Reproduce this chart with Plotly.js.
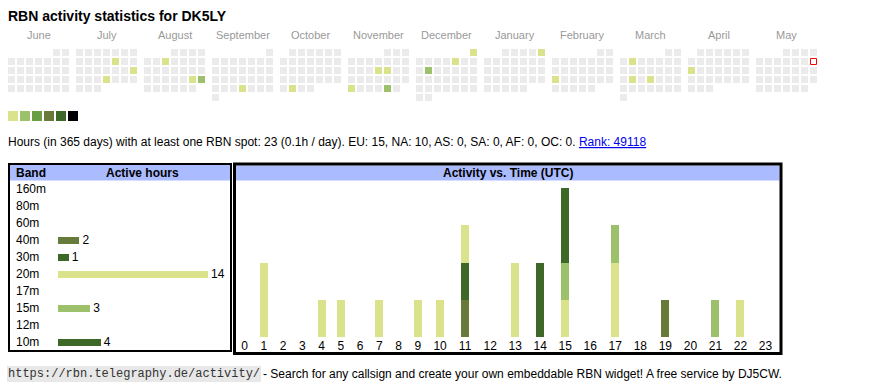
<!DOCTYPE html>
<html><head><meta charset="utf-8">
<script src="https://cdn.plot.ly/plotly-3.0.1.min.js"></script>
<style>html,body{margin:0;padding:0;background:#fff}#chart{width:870px;height:390px}</style>
</head><body><div id="chart"></div>
<script>
// ---------------- data ----------------
const monthNames = ['June','July','August','September','October','November','December','January','February','March','April','May'];
const monthYears = [2024,2024,2024,2024,2024,2024,2024,2025,2025,2025,2025,2025];
const monthNums  = [6,7,8,9,10,11,12,1,2,3,4,5];
const activeDays = ['2024-07-12','2024-07-21','2024-07-25','2024-08-07','2024-08-24','2024-08-25','2024-09-26','2024-10-29','2024-11-14','2024-11-15','2024-11-25','2024-11-29','2024-12-01','2024-12-06','2024-12-10','2025-01-05','2025-02-17','2025-03-04','2025-03-18','2025-03-20','2025-04-14'];
const activeLevels = [1,1,1,1,1,2,1,1,1,1,1,2,1,1,2,1,1,1,1,1,1];
const today = '2025-05-11';
const legendLevels = [1,2,3,4,5,6];

const bands = ['160m','80m','60m','40m','30m','20m','17m','15m','12m','10m'];
const bandHours = [0,0,0,2,1,14,0,3,0,4];

const hourLabels = ['0','1','2','3','4','5','6','7','8','9','10','11','12','13','14','15','16','17','18','19','20','21','22','23'];
const hours40m = [0,0,0,0,0,0,0,0,0,0,0,1,0,0,0,0,0,0,0,1,0,0,0,0];
const hours30m = [0,0,0,0,0,0,0,0,0,0,0,1,0,0,0,0,0,0,0,0,0,0,0,0];
const hours20m = [0,2,0,0,1,1,0,1,0,1,1,1,0,2,0,1,0,2,0,0,0,0,1,0];
const hours15m = [0,0,0,0,0,0,0,0,0,0,0,0,0,0,0,1,0,1,0,0,0,1,0,0];
const hours10m = [0,0,0,0,0,0,0,0,0,0,0,0,0,0,2,2,0,0,0,0,0,0,0,0];

const statsText = 'Hours (in 365 days) with at least one RBN spot: 23 (0.1h / day). EU: 15, NA: 10, AS: 0, SA: 0, AF: 0, OC: 0. ';
const rankText = 'Rank: 49118';
const footerUrl = 'https://rbn.telegraphy.de/activity/';
const footerText = '- Search for any callsign and create your own embeddable RBN widget! A free service by DJ5CW.';

// ---------------- styles ----------------
const W = 870, H = 390;
const levelColors = ['#ebebeb','#dae38b','#9dc06a','#6a9e45','#677a3a','#3d6828','#000000'];
const bandColor = {'160m':'#000000','80m':'#3d6828','60m':'#677a3a','40m':'#677a3a','30m':'#3d6828','20m':'#dae38b','17m':'#6a9e45','15m':'#9dc06a','12m':'#6a9e45','10m':'#3d6828'};
const SANS = 'Liberation Sans, Arial, sans-serif';
const px = v => v / W;
const py = v => 1 - v / H;

// calendar geometry
const CAL_X0 = 8, CAL_Y0 = 49, CELL = 7, PITCH = 9, MONTH_PITCH = 68;
const calX = [], calY = [], calC = [];
let todayX = null, todayY = null;
monthNames.forEach((name, m) => {
  const y = monthYears[m], mo = monthNums[m];
  const firstCol = (new Date(Date.UTC(y, mo - 1, 1)).getUTCDay() + 6) % 7;
  const nDays = new Date(Date.UTC(y, mo, 0)).getUTCDate();
  for (let d = 1; d <= nDays; d++) {
    const idx = d - 1 + firstCol;
    const col = idx % 7, row = Math.floor(idx / 7);
    const key = y + '-' + String(mo).padStart(2, '0') + '-' + String(d).padStart(2, '0');
    const ai = activeDays.indexOf(key);
    const lvl = ai >= 0 ? activeLevels[ai] : 0;
    const cx = CAL_X0 + m * MONTH_PITCH + col * PITCH + CELL / 2;
    const cy = CAL_Y0 + row * PITCH + CELL / 2;
    calX.push(cx); calY.push(cy); calC.push(levelColors[lvl]);
    if (key === today) { todayX = cx; todayY = cy; }
  }
});

// activity columns: two-digit hour columns are wider (like the HTML table)
const colUnits = hourLabels.map(h => h.length > 1 ? 1.3 : 1);
const colCenters = []; let acc = 0;
colUnits.forEach(u => { colCenters.push(acc + u / 2); acc += u; });
const colTotal = acc;
const ACT_X0 = 235, ACT_X1 = 778;
const unitPx = (ACT_X1 - ACT_X0) / colTotal;

const traces = [];
// calendar cells
traces.push({type:'scatter', mode:'markers', x: calX, y: calY, xaxis:'x3', yaxis:'y3',
  marker:{symbol:'square', size: CELL, color: calC, line:{width:0}}, hoverinfo:'skip'});
// today marker
traces.push({type:'scatter', mode:'markers', x:[todayX], y:[todayY], xaxis:'x3', yaxis:'y3',
  marker:{symbol:'square', size: CELL - 1, color:'#ffffff', line:{width:1, color:'#ff0000'}}, hoverinfo:'skip'});
// legend squares
traces.push({type:'scatter', mode:'markers',
  x: legendLevels.map((l, i) => 8 + i * 12 + 5), y: legendLevels.map(() => 116),
  xaxis:'x3', yaxis:'y3',
  marker:{symbol:'square', size:10, color: legendLevels.map(l => levelColors[l]), line:{width:0}}, hoverinfo:'skip'});

// band bars
traces.push({type:'bar', orientation:'h', x: bandHours, y: bands, xaxis:'x', yaxis:'y',
  width: 7/17, marker:{color: bands.map(b => bandColor[b])},
  text: bandHours.map(v => v > 0 ? String(v) : ''), textposition:'outside', constraintext:'none',
  cliponaxis:false, textfont:{family:SANS, size:12, color:'#000'}, hoverinfo:'skip'});

// activity stacked bars
const hourSeries = [['40m', hours40m], ['30m', hours30m], ['20m', hours20m], ['15m', hours15m], ['10m', hours10m]];
hourSeries.forEach(([b, arr]) => {
  traces.push({type:'bar', x: colCenters, y: arr, xaxis:'x2', yaxis:'y2',
    width: 8 / unitPx, marker:{color: bandColor[b], line:{width:0}}, hoverinfo:'skip'});
});

const annotations = [];
const ann = (o) => annotations.push(Object.assign({xref:'paper', yref:'paper', showarrow:false, borderpad:0, borderwidth:0,
  xanchor:'left', yanchor:'middle', font:{family:SANS, size:12, color:'#000'}}, o));

ann({text:'<b>RBN activity statistics for DK5LY</b>', x:px(8), y:py(16), font:{family:SANS, size:14, color:'#000'}});
monthNames.forEach((name, m) => {
  ann({text:name, x:px(CAL_X0 + m * MONTH_PITCH + (6 * PITCH + CELL) / 2), y:py(35), xanchor:'center',
    font:{family:SANS, size:11, color:'#999999'}});
});
ann({text: statsText + '<span style="color:#0000ee;text-decoration:underline">' + rankText + '</span>', x:px(8), y:py(142)});
ann({text:'<b>Band</b>', x:px(16), y:py(173)});
ann({text:'<b>Active hours</b>', x:px(142), y:py(173), xanchor:'center'});
ann({text:'<b>Activity vs. Time (UTC)</b>', x:px(507.5), y:py(173), xanchor:'center'});
bands.forEach(b => ann({text:b, x:px(16), yref:'y', y:b}));
ann({text:footerUrl, x:px(7), y:py(374), bgcolor:'#e8e8e8', borderpad:1,
  font:{family:'Liberation Mono, Courier New, monospace', size:12, color:'#333'}});
ann({text:footerText, x:px(263), y:py(374)});

const shapes = [
  {type:'rect', xref:'paper', yref:'paper', x0:px(10), x1:px(230), y0:py(165), y1:py(180.5), fillcolor:'#aabbff', line:{width:0}},
  {type:'rect', xref:'paper', yref:'paper', x0:px(236), x1:px(779.5), y0:py(165.5), y1:py(180.5), fillcolor:'#aabbff', line:{width:0}},
  {type:'rect', xref:'paper', yref:'paper', x0:px(9), x1:px(231), y0:py(164), y1:py(351), line:{width:2, color:'#000'}},
  {type:'rect', xref:'paper', yref:'paper', x0:px(234.5), x1:px(781), y0:py(164), y1:py(353.5), line:{width:3, color:'#000'}}
];

const hidden = {showgrid:false, zeroline:false, showline:false, showticklabels:false, ticks:'', fixedrange:true};
const layout = {
  width: W, height: H, margin:{l:0, r:0, t:0, b:0, pad:0},
  paper_bgcolor:'#fff', plot_bgcolor:'rgba(0,0,0,0)', showlegend:false, barmode:'stack',
  font:{family:SANS, size:12, color:'#000'},
  xaxis: Object.assign({}, hidden, {domain:[px(58), px(208)], range:[0, Math.max(...bandHours)], anchor:'y'}),
  yaxis: Object.assign({}, hidden, {domain:[py(350.8), py(180.8)], type:'category', categoryarray: bands, categoryorder:'array', range:[bands.length - 0.5, -0.5], anchor:'x'}),
  xaxis2: Object.assign({}, hidden, {domain:[px(ACT_X0), px(ACT_X1)], range:[0, colTotal], anchor:'y2',
    showticklabels:true, tickmode:'array', tickvals: colCenters, ticktext: hourLabels, tickfont:{family:SANS, size:12, color:'#000'}}),
  yaxis2: Object.assign({}, hidden, {domain:[py(337), py(181)], range:[0, (337 - 181) / 37.25], anchor:'x2'}),
  xaxis3: Object.assign({}, hidden, {domain:[0, 1], range:[0, W], anchor:'y3'}),
  yaxis3: Object.assign({}, hidden, {domain:[0, 1], range:[H, 0], anchor:'x3'}),
  annotations, shapes
};
Plotly.newPlot('chart', traces, layout, {staticPlot:true, displayModeBar:false});
</script></body></html>
